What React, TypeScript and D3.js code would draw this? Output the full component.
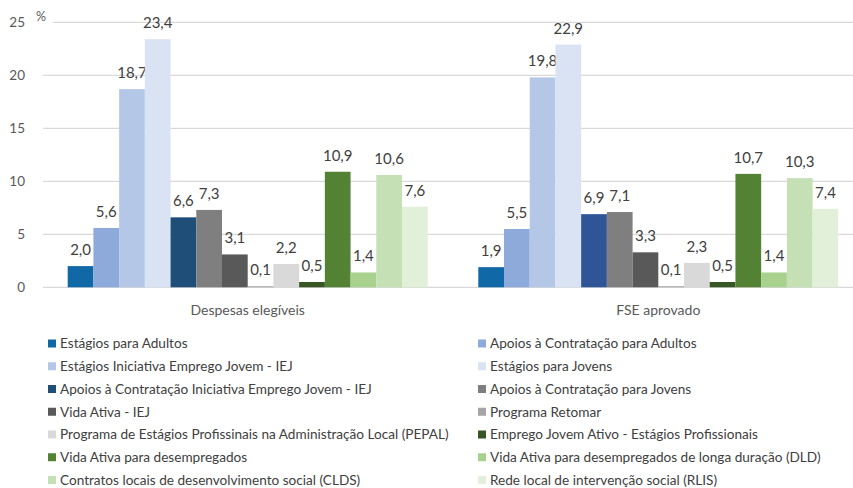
import React from "react";
import * as d3 from "d3";

const groups = ["Despesas elegíveis", "FSE aprovado"];

const seriesNames = [
  "Estágios para Adultos",
  "Apoios à Contratação para Adultos",
  "Estágios Iniciativa Emprego Jovem - IEJ",
  "Estágios para Jovens",
  "Apoios à Contratação Iniciativa Emprego Jovem - IEJ",
  "Apoios à Contratação para Jovens",
  "Vida Ativa - IEJ",
  "Programa Retomar",
  "Programa de Estágios Profissinais na Administração Local (PEPAL)",
  "Emprego Jovem Ativo - Estágios Profissionais",
  "Vida Ativa para desempregados",
  "Vida Ativa para desempregados de longa duração (DLD)",
  "Contratos locais de desenvolvimento social (CLDS)",
  "Rede local de intervenção social (RLIS)",
];

const despesasValues = [2.0, 5.6, 18.7, 23.4, 6.6, 7.3, 3.1, 0.1, 2.2, 0.5, 10.9, 1.4, 10.6, 7.6];
const fseValues = [1.9, 5.5, 19.8, 22.9, 6.9, 7.1, 3.3, 0.1, 2.3, 0.5, 10.7, 1.4, 10.3, 7.4];

const yTicks = [0, 5, 10, 15, 20, 25];

const seriesColors = [
  "#1068a6", "#8eaadb", "#b4c7e7", "#dae3f3", "#1f4e79", "#7f7f7f", "#595959",
  "#a5a5a5", "#d9d9d9", "#375623", "#548235", "#a9d18e", "#c5e0b4", "#e2f0d9",
];
// per-group colour overrides (series index 4 is drawn differently in the second group)
const groupColorOverrides: Record<number, Record<number, string>> = { 1: { 4: "#2f5597" } };

const W = 853;
const H = 488;
const FONT = "Lato, 'Open Sans', sans-serif";

export default function App() {
  const valuesByGroup = [despesasValues, fseValues];
  const x0 = d3.scaleBand<string>().domain(groups).range([42.4, 863.6]).paddingInner(0.1232).paddingOuter(0.0616);
  const x1 = d3.scaleBand<string>().domain(seriesNames).range([0, x0.bandwidth()]).padding(0);
  const y = d3.scaleLinear().domain([0, 25]).range([287.3, 22.3]);

  return (
    <svg width={W} height={H} style={{ position: "absolute", left: 0, top: 0, background: "#fff" }} fontFamily={FONT}>
      <rect x={0} y={0} width={W} height={H} fill="#fff" />
      {yTicks.map((t) => (
        <g key={t}>
          <line x1={t === 25 ? 53 : 43} x2={W} y1={y(t)} y2={y(t)} stroke="#d9d9d9" strokeWidth={1.2} />
          <text x={25} y={y(t)} dy="0.36em" textAnchor="end" fontSize={13.5} fill="#595959">{t}</text>
        </g>
      ))}
      <text x={36} y={21} fontSize={12.5} fill="#595959">%</text>
      {groups.map((g, gi) => (
        <g key={g} transform={`translate(${x0(g)},0)`}>
          {seriesNames.map((s, si) => {
            const v = valuesByGroup[gi][si];
            const color = (groupColorOverrides[gi] && groupColorOverrides[gi][si]) || seriesColors[si];
            const bx = x1(s) as number;
            return (
              <g key={s}>
                <rect x={bx} y={y(v)} width={x1.bandwidth()} height={y(0) - y(v)} fill={color} />
                <text x={bx + x1.bandwidth() / 2} y={y(v) - 11} textAnchor="middle" fontSize={15} fill="#404040">
                  {v.toFixed(1).replace(".", ",")}
                </text>
              </g>
            );
          })}
          <text x={x0.bandwidth() / 2} y={315} textAnchor="middle" fontSize={14} fill="#595959">{g}</text>
        </g>
      ))}
      {seriesNames.map((s, i) => {
        const col = i % 2;
        const row = Math.floor(i / 2);
        const lx = col === 0 ? 48 : 478;
        const ly = 343.5 + row * 22.75;
        return (
          <g key={s}>
            <rect x={lx} y={ly - 4} width={8} height={8} fill={seriesColors[i]} />
            <text x={lx + 12} y={ly} dy="0.36em" fontSize={13.6} fill="#404040">{s}</text>
          </g>
        );
      })}
    </svg>
  );
}
